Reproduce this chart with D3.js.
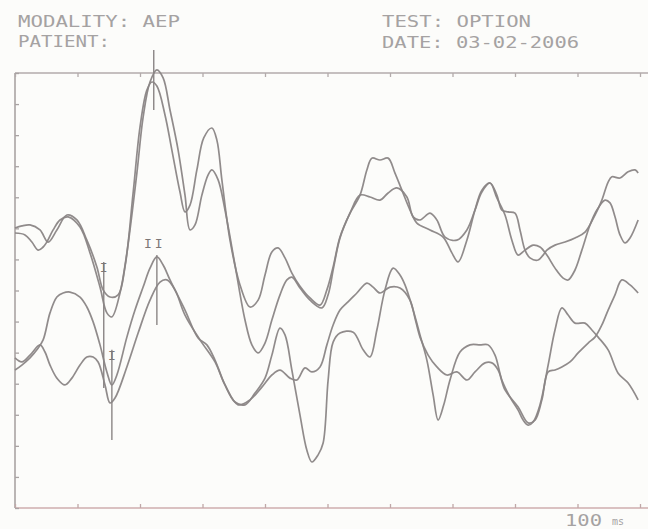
<!DOCTYPE html>
<html>
<head>
<meta charset="utf-8">
<script src="https://cdn.jsdelivr.net/npm/d3@7/dist/d3.min.js"></script>
<style>
  html, body { margin: 0; padding: 0; background: #fcfcfa; }
  svg { display: block; }
  text { font-family: "DejaVu Sans Mono", "Liberation Mono", monospace; }
</style>
</head>
<body>
<svg id="chart" width="648" height="529"></svg>
<script>
// ---- header texts ----
const headerLeft = ["MODALITY: AEP", "PATIENT:"];
const headerRight = ["TEST: OPTION", "DATE: 03-02-2006"];
const scaleLabel = ["100", "ms"];

// ---- axes ----
const timeTicks = [0, 10, 20, 30, 40, 50, 60, 70, 80, 90, 100];      // ms
const ampTicks = [-7, -6, -5, -4, -3, -2, -1, 0, 1, 2, 3, 4, 5, 6, 7]; // divisions

// ---- trace A (upper, first run) ----
const tA = [0,1.1,2.4,4.0,5.3,6.7,8.3,9.9,11.5,13.1,14.1,15.2,16.5,17.6,18.9,20.0,21.1,21.9,22.7,24.0,25.1,26.4,27.2,28.0,29.1,30.2,31.5,32.3,33.1,34.4,36.0,37.6,38.9,40.0,41.1,42.1,43.2,44.3,45.6,47.2,48.8,49.9,50.9,52.0,53.6,55.2,56.3,57.1,58.4,59.7,60.8,61.9,63.2,64.3,66.4,68.5,69.9,70.9,72.3,73.6,74.7,76.0,77.1,77.9,78.9,80.0,80.8,81.6,82.4,83.7,84.5,85.1,86.4,88.0,89.6,91.2,92.8,93.9,94.9,95.5,96.8,98.1,99.2,99.7];
const vA = [2.01,2.08,2.11,1.95,1.56,1.95,2.43,2.27,1.62,0.76,0.02,-0.21,-0.14,0.76,3.14,5.26,6.45,6.71,6.58,5.65,4.52,3.17,2.53,2.75,3.88,4.91,5.23,4.84,3.56,1.62,0.18,-0.53,-0.31,0.50,1.24,1.37,1.05,0.56,0.14,-0.24,-0.47,0.02,0.76,1.72,2.49,3.07,3.88,4.26,4.20,4.26,3.78,3.23,2.59,2.17,1.95,1.72,1.21,0.92,1.62,2.59,3.23,3.46,3.07,2.59,2.53,2.49,1.95,1.30,1.05,0.98,1.14,1.30,1.46,1.56,1.69,1.88,2.43,2.91,3.49,3.66,3.62,3.82,3.88,3.78];

// ---- trace B (upper, second run) ----
const tB = [0,1.6,2.7,3.7,4.5,5.1,6.1,7.2,8.5,10.4,12.0,13.6,14.7,15.5,16.8,17.9,19.5,20.5,21.6,22.7,23.7,24.8,26.1,27.2,28.0,28.8,29.9,30.9,31.5,32.5,33.6,35.2,36.8,37.9,38.9,40.0,41.1,42.4,43.5,44.3,45.6,47.2,49.1,50.1,51.0,52.0,53.6,55.2,56.8,58.4,59.7,61.1,62.7,63.7,64.8,66.4,67.5,68.8,70.7,72.3,73.6,74.7,76.0,77.1,78.4,79.5,80.5,81.6,82.9,84.0,85.1,86.4,87.7,88.5,89.6,90.7,92.0,93.1,94.4,95.2,96.0,96.8,97.6,98.4,99.7];
const vB = [1.85,1.79,1.56,1.30,1.40,1.56,1.95,2.27,2.37,2.04,1.21,0.11,-0.72,-0.85,-0.08,1.21,3.78,5.58,6.71,7.10,6.84,5.81,4.52,3.07,1.95,2.11,3.07,3.72,3.88,3.56,2.59,0.82,-0.95,-1.75,-2.01,-1.69,-0.95,-0.14,0.34,0.43,0.08,-0.31,-0.56,-0.14,0.76,1.69,2.49,3.07,3.01,2.91,3.14,3.30,3.01,2.37,2.27,2.49,2.27,1.72,1.62,1.95,2.59,3.17,3.46,2.98,2.43,1.62,1.14,1.30,1.46,1.40,1.14,0.72,0.40,0.34,0.66,1.30,2.11,2.59,2.91,2.82,2.37,1.79,1.53,1.69,2.27];

// ---- trace C (lower, first run) ----
const tC = [0,1.1,2.4,3.5,4.5,5.6,6.7,7.7,8.8,10.4,11.5,12.5,13.6,14.7,15.5,16.3,17.9,19.2,20.5,21.6,22.7,23.7,24.8,27.2,29.3,30.7,32.0,33.6,35.2,36.8,38.4,40.0,41.1,42.4,43.2,44.3,45.6,46.7,47.5,48.5,49.3,50.1,50.9,52.0,54.1,55.7,56.8,57.9,59.2,60.5,61.6,62.4,63.7,64.8,65.9,66.9,67.7,68.6,69.6,71.2,72.8,74.4,75.7,76.8,77.9,79.2,80.5,81.3,82.1,82.9,84.0,85.3,86.4,87.5,88.5,89.6,91.2,92.3,93.3,94.9,96.5,98.1,99.7];
const vC = [-2.56,-2.40,-2.17,-1.91,-1.59,-0.72,-0.21,-0.08,-0.05,-0.21,-0.53,-1.01,-1.75,-2.62,-3.04,-2.72,-1.50,-0.63,0.11,0.72,1.08,0.82,0.34,-0.63,-1.53,-1.75,-2.24,-3.04,-3.59,-3.68,-3.30,-2.82,-2.08,-1.21,-1.43,-2.56,-4.01,-5.14,-5.52,-5.29,-4.91,-2.88,-1.66,-1.37,-1.34,-1.91,-2.14,-1.27,0.02,0.72,0.50,0.18,-0.63,-1.43,-2.24,-3.36,-4.17,-3.68,-2.88,-1.98,-1.75,-1.75,-1.75,-2.08,-2.88,-3.43,-3.85,-4.17,-4.33,-4.23,-3.68,-2.40,-1.27,-0.56,-0.79,-1.05,-1.05,-1.27,-1.50,-1.91,-2.66,-2.98,-3.52];

// ---- trace D (lower, second run) ----
const tD = [0,1.1,2.4,4.0,4.8,5.6,6.7,8.0,9.1,10.4,11.5,12.5,13.3,14.4,15.2,16.0,17.9,19.7,21.6,23.2,24.3,25.6,27.2,29.6,32.0,33.6,35.7,37.6,39.5,41.1,42.4,44.0,45.1,46.4,47.5,48.8,49.9,50.9,52.0,53.1,54.7,56.3,57.3,58.4,60.0,61.6,63.2,64.0,64.8,66.1,67.5,69.1,70.7,72.3,73.6,75.2,76.3,77.3,78.4,80.5,82.1,83.2,84.3,85.3,86.4,87.5,88.8,90.1,91.7,92.8,93.9,94.9,96.0,97.1,98.4,99.7];
const vD = [-2.17,-2.30,-2.08,-1.75,-1.98,-2.40,-2.82,-3.04,-2.82,-2.40,-2.14,-2.14,-2.30,-3.04,-3.62,-3.46,-2.46,-1.37,-0.31,0.27,0.34,0.02,-0.79,-1.59,-2.30,-3.04,-3.68,-3.52,-3.11,-2.72,-2.56,-2.82,-2.88,-2.49,-2.62,-2.46,-1.75,-1.11,-0.63,-0.40,-0.08,0.24,0.11,-0.08,0.11,0.08,-0.31,-0.89,-1.50,-2.08,-2.46,-2.72,-2.62,-2.88,-2.62,-2.33,-2.33,-2.56,-3.20,-3.75,-4.26,-4.17,-3.52,-2.62,-2.56,-2.46,-2.30,-2.01,-1.69,-1.50,-1.11,-0.63,-0.14,0.34,0.18,-0.08];

// ---- latency markers ----
const markerLabels = ["", "I", "I", "II"];
const markerTimes = [22.2, 14.2, 15.5, 22.7];
const markerTop = [7.74, 0.92, -1.91, 1.14];
const markerBottom = [5.81, -3.14, -4.81, -1.11];

// ---------------------------------------------------------------
const W = 648, H = 529;
const svg = d3.select("#chart");
const x = d3.scaleLinear().domain([0, 100]).range([15, 640]);
const y = d3.scaleLinear().domain([-7, 7]).range([508, 73]);

const frameCol = "#b3abab";
svg.append("rect").attr("width", W).attr("height", H).attr("fill", "#fcfcfa");

// frame lines
svg.append("line").attr("x1", x(0)).attr("x2", W).attr("y1", y(7)).attr("y2", y(7))
  .attr("stroke", frameCol).attr("stroke-width", 1.4);
svg.append("line").attr("x1", x(0)).attr("x2", W).attr("y1", y(-7)).attr("y2", y(-7))
  .attr("stroke", "#cfaeae").attr("stroke-width", 1.4);
svg.append("line").attr("x1", x(0)).attr("x2", x(0)).attr("y1", y(7)).attr("y2", y(-7))
  .attr("stroke", "#a9a3a3").attr("stroke-width", 1.6);

function styleAxis(g, col) {
  g.select(".domain").remove();
  g.selectAll(".tick line").attr("stroke", col).attr("stroke-width", 1.3);
  g.selectAll(".tick text").remove();
}
svg.append("g").attr("transform", `translate(0,${y(7)})`)
  .call(d3.axisBottom(x).tickValues(timeTicks).tickSize(4).tickFormat(""))
  .call(g => styleAxis(g, frameCol));
svg.append("g").attr("transform", `translate(0,${y(-7)})`)
  .call(d3.axisTop(x).tickValues(timeTicks).tickSize(4).tickFormat(""))
  .call(g => styleAxis(g, "#c0a8a8"));
svg.append("g").attr("transform", `translate(${x(0)},0)`)
  .call(d3.axisRight(y).tickValues(ampTicks).tickSize(4).tickFormat(""))
  .call(g => styleAxis(g, "#a9a3a3"));

// traces
const line = d3.line().x(d => x(d[0])).y(d => y(d[1])).curve(d3.curveCatmullRom.alpha(0.5));
const traces = [[tA, vA], [tB, vB], [tC, vC], [tD, vD]];
traces.forEach(([t, v]) => {
  const pts = t.map((tt, i) => [tt, v[i]]);
  svg.append("path").datum(pts).attr("d", line)
    .attr("fill", "none").attr("stroke", "#8a8585").attr("stroke-width", 1.7)
    .attr("stroke-linejoin", "round").attr("opacity", 0.95);
});

// markers
markerTimes.forEach((mt, i) => {
  svg.append("line").attr("x1", x(mt)).attr("x2", x(mt))
    .attr("y1", y(markerTop[i])).attr("y2", y(markerBottom[i]))
    .attr("stroke", "#8a8585").attr("stroke-width", 1.4);
  if (markerLabels[i]) {
    svg.append("text").attr("x", x(mt) - (i === 3 ? 2 : 0)).attr("y", y(markerTop[i]) + (i === 3 ? -7 : 10))
      .attr("text-anchor", "middle").attr("font-size", 13).attr("fill", "#7c7777")
      .attr("letter-spacing", i === 3 ? 3 : 0)
      .text(markerLabels[i]);
  }
});

// header texts
const hdr = svg.append("g").attr("fill", "#a5a2a2").attr("font-size", 16);
hdr.append("text").attr("x", 18).attr("y", 27).attr("textLength", 162).attr("lengthAdjust", "spacingAndGlyphs").text(headerLeft[0]);
hdr.append("text").attr("x", 18).attr("y", 47).attr("textLength", 92).attr("lengthAdjust", "spacingAndGlyphs").text(headerLeft[1]);
hdr.append("text").attr("x", 382).attr("y", 27).attr("textLength", 149).attr("lengthAdjust", "spacingAndGlyphs").text(headerRight[0]);
hdr.append("text").attr("x", 382).attr("y", 48).attr("textLength", 197).attr("lengthAdjust", "spacingAndGlyphs").text(headerRight[1]);

// scale label
svg.append("text").attr("x", 565).attr("y", 526).attr("font-size", 16).attr("fill", "#a5a2a2")
  .attr("textLength", 37).attr("lengthAdjust", "spacingAndGlyphs").text(scaleLabel[0]);
svg.append("text").attr("x", 612).attr("y", 525).attr("font-size", 10).attr("fill", "#a5a2a2")
  .text(scaleLabel[1]);
</script>
</body>
</html>
